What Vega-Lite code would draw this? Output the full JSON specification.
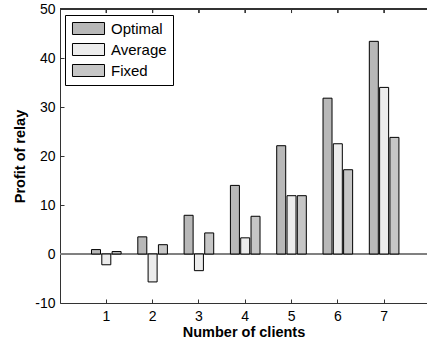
{
  "$schema": "https://vega.github.io/schema/vega-lite/v6.json",
  "width": 367,
  "height": 294,
  "autosize": {"type": "none"},
  "padding": {"left": 60, "top": 9, "right": 0, "bottom": 44},
  "background": "white",
  "config": {
    "view": {"stroke": null},
    "font": "Liberation Sans",
    "axis": {
      "domainColor": "#333333",
      "tickColor": "#333333",
      "labelColor": "black",
      "titleColor": "black",
      "labelFont": "Liberation Sans",
      "titleFont": "Liberation Sans",
      "labelFontSize": 14,
      "titleFontSize": 14.5,
      "titleFontWeight": "bold",
      "grid": false
    }
  },
  "data": {
    "values": [
      {"clients": 1, "scheme": "Optimal", "profit": 0.9},
      {"clients": 1, "scheme": "Average", "profit": -2.2},
      {"clients": 1, "scheme": "Fixed", "profit": 0.5},
      {"clients": 2, "scheme": "Optimal", "profit": 3.5},
      {"clients": 2, "scheme": "Average", "profit": -5.7},
      {"clients": 2, "scheme": "Fixed", "profit": 1.9},
      {"clients": 3, "scheme": "Optimal", "profit": 7.9},
      {"clients": 3, "scheme": "Average", "profit": -3.4},
      {"clients": 3, "scheme": "Fixed", "profit": 4.3},
      {"clients": 4, "scheme": "Optimal", "profit": 14.0},
      {"clients": 4, "scheme": "Average", "profit": 3.3},
      {"clients": 4, "scheme": "Fixed", "profit": 7.7},
      {"clients": 5, "scheme": "Optimal", "profit": 22.1},
      {"clients": 5, "scheme": "Average", "profit": 11.9},
      {"clients": 5, "scheme": "Fixed", "profit": 11.9},
      {"clients": 6, "scheme": "Optimal", "profit": 31.8},
      {"clients": 6, "scheme": "Average", "profit": 22.5},
      {"clients": 6, "scheme": "Fixed", "profit": 17.2},
      {"clients": 7, "scheme": "Optimal", "profit": 43.4},
      {"clients": 7, "scheme": "Average", "profit": 34.0},
      {"clients": 7, "scheme": "Fixed", "profit": 23.8}
    ]
  },
  "layer": [
    {
      "mark": {"type": "rule", "color": "#808080", "strokeWidth": 1},
      "encoding": {
        "y": {"datum": 0, "type": "quantitative"}
      }
    },
    {
      "mark": {"type": "rule", "color": "#333333", "strokeWidth": 1},
      "encoding": {
        "y": {"datum": 50, "type": "quantitative"}
      }
    },
    {
      "mark": {"type": "bar", "stroke": "black", "strokeWidth": 1},
      "encoding": {
        "x": {
          "field": "clients",
          "type": "ordinal",
          "scale": {"type": "band", "paddingInner": 0, "paddingOuter": 0.463, "align": 0.54},
          "axis": {
            "orient": "bottom",
            "title": "Number of clients",
            "labelAngle": 0,
            "tickSize": -4,
            "labelPadding": 10,
            "titlePadding": 2,
            "domainWidth": 1
          }
        },
        "xOffset": {
          "field": "scheme",
          "type": "nominal",
          "sort": ["Optimal", "Average", "Fixed"],
          "scale": {"type": "band", "paddingInner": 0.126, "paddingOuter": 0.81}
        },
        "y": {
          "field": "profit",
          "type": "quantitative",
          "scale": {"domain": [-10, 50], "nice": false, "zero": false},
          "axis": {
            "title": "Profit of relay",
            "values": [-10, 0, 10, 20, 30, 40, 50],
            "labelExpr": "(datum.value < 0 ? '-' : '') + abs(datum.value)",
            "tickSize": -4,
            "labelPadding": 9,
            "titlePadding": 7
          }
        },
        "fill": {
          "field": "scheme",
          "type": "nominal",
          "sort": ["Optimal", "Average", "Fixed"],
          "scale": {"domain": ["Optimal", "Average", "Fixed"], "range": ["#b8b8b8", "#ececec", "#c6c6c6"]},
          "legend": {
            "title": null,
            "orient": "none",
            "legendX": 5,
            "legendY": 6,
            "padding": 6,
            "strokeColor": "black",
            "fillColor": "white",
            "symbolType": "M-2.67,-1H2.67V1H-2.67Z",
            "symbolSize": 144,
            "symbolOffset": 10,
            "symbolStrokeColor": "black",
            "symbolStrokeWidth": 1,
            "labelFontSize": 15,
            "labelFont": "Liberation Sans",
            "labelColor": "black",
            "labelOffset": 15,
            "rowPadding": 4
          }
        }
      }
    },
    {
      "mark": {"type": "rule", "color": "#333333", "strokeWidth": 1},
      "encoding": {
        "x": {"field": "clients", "type": "ordinal"},
        "y": {"datum": 50, "type": "quantitative"},
        "y2": {"datum": 49.18}
      }
    }
  ]
}
